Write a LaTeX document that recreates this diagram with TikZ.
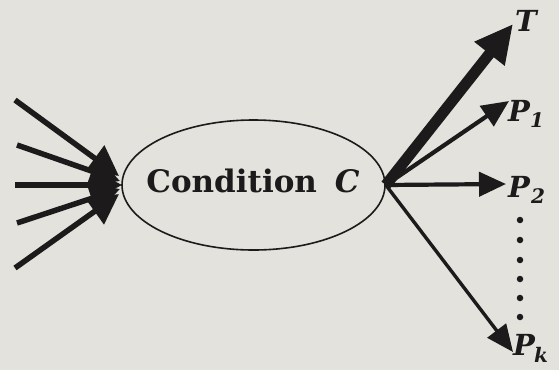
\documentclass[tikz,border=0pt]{standalone}
\usepackage{fontspec}
\setmainfont{DejaVu Serif}
\usetikzlibrary{arrows.meta,shapes.geometric}
\definecolor{paper}{RGB}{228,226,220}
\definecolor{ink}{RGB}{28,26,26}
\begin{document}
\begin{tikzpicture}[x=1pt,y=-1pt,
  inarrow/.style={draw=ink, line width=5.5pt, -{Triangle[length=30pt,width=31pt]}},
  outthick/.style={draw=ink, line width=11pt, -{Triangle[length=38pt,width=36pt]}},
  outarrow/.style={draw=ink, line width=4.2pt, -{Triangle[length=27pt,width=24pt]}},
  outthin/.style={draw=ink, line width=3.4pt, -{Triangle[length=27pt,width=23pt]}},
  lab/.style={text=ink, font=\fontsize{29}{33}\selectfont\bfseries\itshape, inner sep=0pt},
  sub/.style={text=ink, font=\fontsize{20}{23}\selectfont\bfseries\itshape, inner sep=0pt},
  dotmark/.style={circle, fill=ink, inner sep=0pt, minimum size=6.5pt}]
\fill[paper] (0,0) rectangle (559,370);
\useasboundingbox (0,0) rectangle (559,370);
% condition ellipse
\node[ellipse, draw=ink, line width=1.6pt, minimum width=263pt, minimum height=130pt, inner sep=0pt] (cond) at (253.5,185) {};
\node[text=ink, font=\fontsize{31}{36}\selectfont\bfseries, inner sep=0pt] (ctext) at (253,181) {Condition\hspace{18pt}\textit{C}};
% incoming arrows
\coordinate (in1) at (15,100);
\coordinate (in2) at (17,145);
\coordinate (in3) at (15,185);
\coordinate (in4) at (17,223);
\coordinate (in5) at (15,268);
\coordinate (h1) at (119,176);
\coordinate (h2) at (120,181);
\coordinate (h3) at (122,185);
\coordinate (h4) at (120,189);
\coordinate (h5) at (119,194);
\foreach \i in {1,...,5} \draw[inarrow] (in\i) -- (h\i);
% outgoing
\coordinate (tT) at (513,24);
\coordinate (tP1) at (509,101);
\coordinate (tP2) at (506,184);
\coordinate (tPk) at (513,352);
\draw[outthick] (cond.east) -- (tT);
\draw[outarrow] (cond.east) -- (tP1);
\draw[outarrow] (cond.east) -- (tP2);
\draw[outthin] (cond.east) -- (tPk);
% labels
\node[lab] (T) at (526,21) {T};
\node[lab] (P1) at (519,111) {P};
\node[sub] (s1) at (537,120) {1};
\node[lab] (P2) at (519,187) {P};
\node[sub] (s2) at (538,196) {2};
\node[lab] (Pk) at (524,345) {P};
\node[sub] (sk) at (541,355) {k};
% dots
\foreach \y [count=\j] in {220,240,260,279,298,317} \node[dotmark] (d\j) at (520,\y) {};
\end{tikzpicture}
\end{document}
